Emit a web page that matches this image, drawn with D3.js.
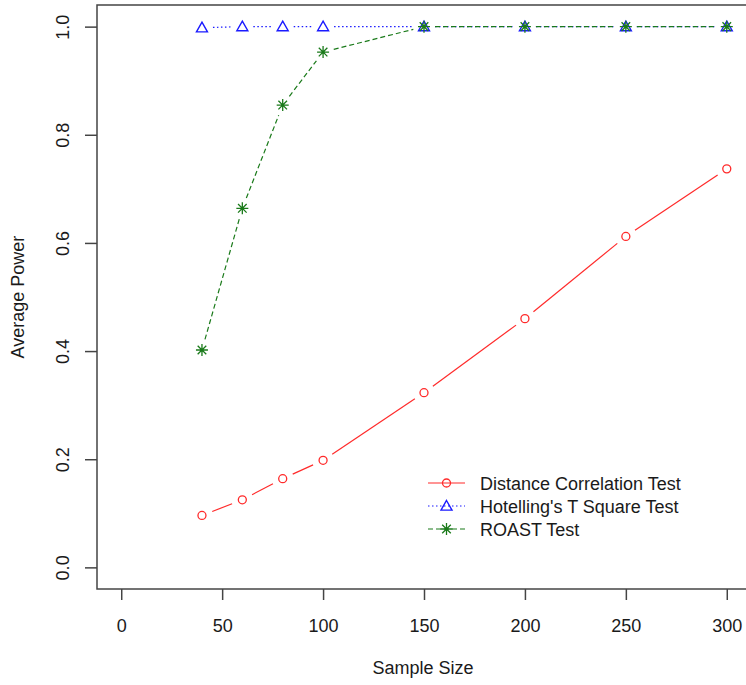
<!DOCTYPE html>
<html>
<head>
<meta charset="utf-8">
<script src="https://cdn.jsdelivr.net/npm/d3@7"></script>
<style>
  body { margin: 0; background: #fff; }
  svg text { font-family: "Liberation Sans", Arial, sans-serif; fill: #1a1a1a; }
</style>
</head>
<body>
<svg id="chart" width="746" height="685"></svg>
<script>
// Puissance moyenne selon la taille d'échantillon
const sampleSizes = [40, 60, 80, 100, 150, 200, 250, 300];
const distCorr   = [0.096, 0.125, 0.164, 0.198, 0.323, 0.460, 0.612, 0.737];
const hotelling  = [0.998, 1.000, 1.000, 1.000, 1.000, 1.000, 1.000, 1.000];
const roast      = [0.402, 0.664, 0.855, 0.953, 1.000, 1.000, 1.000, 1.000];
const seriesNames = ["Distance Correlation Test", "Hotelling's T Square Test", "ROAST Test"];
const xTicks = [0, 50, 100, 150, 200, 250, 300];
const yTicks = [0, 0.2, 0.4, 0.6, 0.8, 1.0];

const series = [
    {name: seriesNames[0], values: distCorr,  color: "#ff2a2a", dash: null,      shape: "circle"},
    {name: seriesNames[1], values: hotelling, color: "#1a1aff", dash: "1.5,2.5", shape: "triangle"},
    {name: seriesNames[2], values: roast,     color: "#1a7a1a", dash: "5,3",     shape: "star"}
];

const svg = d3.select("#chart");

// Cadre du graphique (style R, 4% de marge)
const mLeft = 97, mRight = 751, mTop = 5, mBottom = 589;
const x = d3.scaleLinear().domain([-12, 312]).range([mLeft, mRight]);
const y = d3.scaleLinear().domain([-0.04, 1.04]).range([mBottom, mTop]);

// Boîte
svg.append("rect")
    .attr("x", mLeft).attr("y", mTop)
    .attr("width", mRight - mLeft).attr("height", mBottom - mTop)
    .attr("fill", "none").attr("stroke", "#444").attr("stroke-width", 1.5);

// Axes
const xAxis = svg.append("g")
    .attr("transform", `translate(0,${mBottom})`)
    .call(d3.axisBottom(x).tickValues(xTicks).tickSize(11).tickPadding(23).tickSizeOuter(0));
const yAxis = svg.append("g")
    .attr("transform", `translate(${mLeft},0)`)
    .call(d3.axisLeft(y).tickValues(yTicks).tickSize(12).tickFormat(d3.format(".1f")).tickSizeOuter(0));

[xAxis, yAxis].forEach(a => {
    a.select(".domain").remove();
    a.selectAll(".tick line").attr("stroke", "#444").attr("stroke-width", 1.5);
    a.selectAll(".tick text").attr("font-size", "18px").attr("fill", "#1a1a1a");
});
xAxis.selectAll(".tick text").attr("dy", "0.5em");
// étiquettes de l'axe Y tournées comme dans R
yAxis.selectAll(".tick text")
    .attr("x", 0).attr("y", 0).attr("dy", 0)
    .attr("text-anchor", "middle")
    .attr("transform", "translate(-28,0) rotate(-90)");

// Titres des axes
svg.append("text")
    .attr("x", (mLeft + mRight) / 2 - 1).attr("y", 674)
    .attr("text-anchor", "middle").attr("font-size", "18px")
    .text("Sample Size");
svg.append("text")
    .attr("transform", `translate(24,${(mTop + mBottom) / 2}) rotate(-90)`)
    .attr("text-anchor", "middle").attr("font-size", "18px")
    .text("Average Power");

// Symboles
function drawMarker(g, shape, cx, cy, color) {
    if (shape === "circle") {
        g.append("circle").attr("cx", cx).attr("cy", cy).attr("r", 4)
            .attr("fill", "none").attr("stroke", color).attr("stroke-width", 1.3);
    } else if (shape === "triangle") {
        const s = 5.5;
        g.append("path")
            .attr("d", `M${cx},${cy - s} L${cx + s},${cy + s * 0.75} L${cx - s},${cy + s * 0.75} Z`)
            .attr("fill", "none").attr("stroke", color).attr("stroke-width", 1.4);
    } else {
        const s = 6, d = 4.3;
        g.append("path")
            .attr("d", `M${cx - s},${cy} L${cx + s},${cy} M${cx},${cy - s} L${cx},${cy + s}` +
                       ` M${cx - d},${cy - d} L${cx + d},${cy + d} M${cx - d},${cy + d} L${cx + d},${cy - d}`)
            .attr("fill", "none").attr("stroke", color).attr("stroke-width", 1.3);
    }
}

// Lignes avec espaces autour des points (type = "b")
const gap = 11;
series.forEach(s => {
    const g = svg.append("g");
    const pts = sampleSizes.map((n, i) => [x(n), y(s.values[i])]);
    for (let i = 0; i < pts.length - 1; i++) {
        const [x1, y1] = pts[i], [x2, y2] = pts[i + 1];
        const len = Math.hypot(x2 - x1, y2 - y1);
        if (len <= 2 * gap) continue;
        const ux = (x2 - x1) / len, uy = (y2 - y1) / len;
        g.append("line")
            .attr("x1", x1 + ux * gap).attr("y1", y1 + uy * gap)
            .attr("x2", x2 - ux * gap).attr("y2", y2 - uy * gap)
            .attr("stroke", s.color).attr("stroke-width", 1.2)
            .attr("stroke-dasharray", s.dash);
    }
    pts.forEach(p => drawMarker(g, s.shape, p[0], p[1], s.color));
});

// Légende
const legend = svg.append("g");
series.forEach((s, i) => {
    const ly = 483 + i * 23;
    legend.append("line")
        .attr("x1", 428).attr("x2", 465).attr("y1", ly).attr("y2", ly)
        .attr("stroke", s.color).attr("stroke-width", 1.2)
        .attr("stroke-dasharray", s.dash);
    drawMarker(legend, s.shape, 446.5, ly, s.color);
    legend.append("text")
        .attr("x", 480).attr("y", ly + 6.5)
        .attr("font-size", "18px")
        .text(s.name);
});
</script>
</body>
</html>
